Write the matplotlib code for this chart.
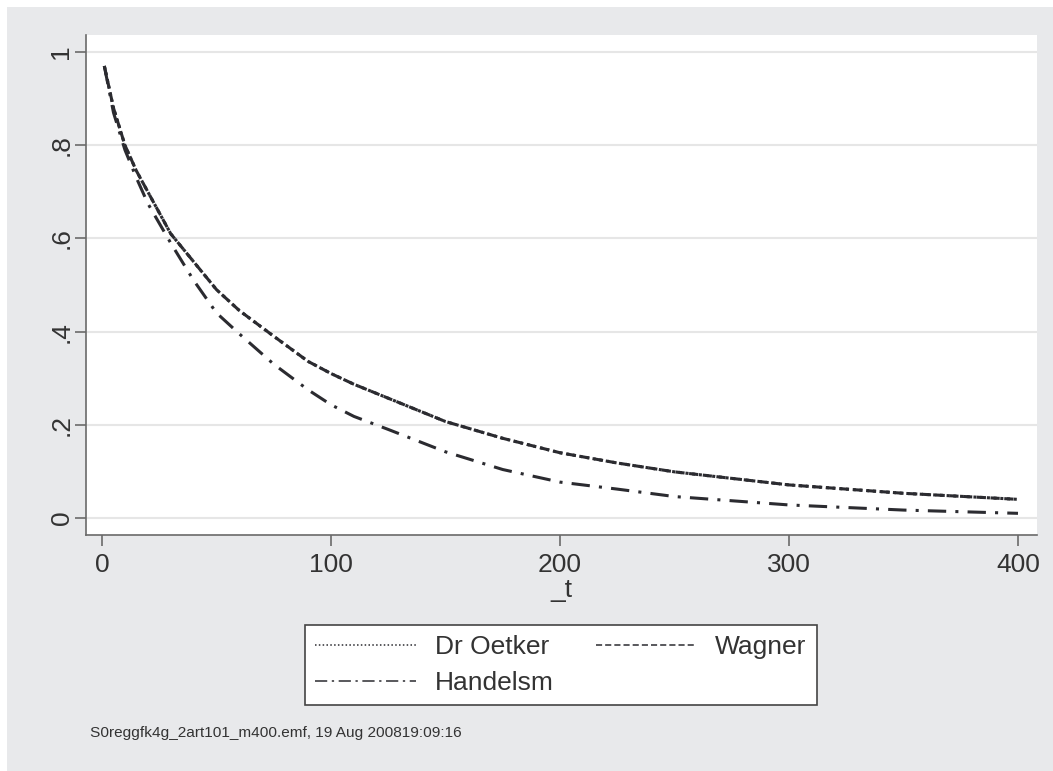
import matplotlib
matplotlib.use("Agg")
import matplotlib.pyplot as plt
from matplotlib.lines import Line2D
from matplotlib.patches import Rectangle

plt.rcParams["font.family"] = ["Liberation Sans", "DejaVu Sans"]

# survival estimates
t_vals = [1, 5, 10, 15, 20, 30, 40, 50, 60, 75, 90, 100, 110, 125, 150, 175, 200, 225, 250, 300, 350, 400]
oetker = [0.97, 0.88, 0.80, 0.745, 0.70, 0.61, 0.55, 0.49, 0.445, 0.39, 0.336, 0.31, 0.287, 0.257, 0.207, 0.171, 0.14, 0.118, 0.099, 0.071, 0.053, 0.040]
wagner = [0.97, 0.88, 0.80, 0.745, 0.70, 0.61, 0.55, 0.49, 0.445, 0.39, 0.336, 0.31, 0.287, 0.257, 0.207, 0.171, 0.14, 0.118, 0.099, 0.071, 0.053, 0.040]
handelsm = [0.97, 0.87, 0.79, 0.73, 0.675, 0.59, 0.51, 0.44, 0.395, 0.33, 0.275, 0.243, 0.218, 0.19, 0.142, 0.104, 0.077, 0.062, 0.046, 0.028, 0.017, 0.010]

y_ticks = [0, 0.2, 0.4, 0.6, 0.8, 1]
y_labels = ["0", ".2", ".4", ".6", ".8", "1"]
x_ticks = [0, 100, 200, 300, 400]

W, H = 1053, 771
fig = plt.figure(figsize=(W / 100, H / 100), dpi=100, facecolor="white")

# gray graph region
fig.patches.append(Rectangle((7 / W, 0), 1 - 7 / W, 1 - 7 / H, transform=fig.transFigure,
                             facecolor="#e8e9eb", edgecolor="none", zorder=-10))

ax = fig.add_axes([86 / W, (H - 535) / H, (1037 - 86) / W, (535 - 35) / H])
ax.set_facecolor("white")

line_col = "#2b2b30"
ax.plot(t_vals, wagner, color=line_col, lw=2.2, linestyle=(0, (3, 1.5)), zorder=3)
ax.plot(t_vals, oetker, color=line_col, lw=2.2, linestyle=(0, (1, 1.2)), zorder=4)
ax.plot(t_vals, handelsm, color=line_col, lw=2.2, linestyle=(0, (6, 3, 1, 3)), zorder=3)

ax.set_xlim(-7, 408.3)
ax.set_ylim(-0.0365, 1.0365)
ax.set_xticks(x_ticks)
ax.set_yticks(y_ticks)
ax.set_yticklabels(y_labels, rotation=90, va="center")
ax.grid(axis="y", color="#e6e6e6", lw=1.5)
ax.set_axisbelow(True)

for s in ["top", "right"]:
    ax.spines[s].set_visible(False)
for s in ["left", "bottom"]:
    ax.spines[s].set_color("#6a6a6a")
    ax.spines[s].set_linewidth(1.2)

ax.tick_params(axis="both", direction="out", length=8, width=1.2, color="#6a6a6a",
               labelsize=19, labelcolor="#333333", pad=5)
ax.tick_params(axis="y", pad=1)

ax.set_xlabel("_t", fontsize=19, color="#333333", labelpad=1)

# legend fills column-wise, so order puts Wagner in the second column
handles = [
    Line2D([], [], color=line_col, lw=1.1, linestyle=(0, (1, 1.5))),
    Line2D([], [], color=line_col, lw=1.1, linestyle=(0, (8, 3, 1.5, 3))),
    Line2D([], [], color=line_col, lw=1.1, linestyle=(0, (4, 2))),
]
labels = ["Dr Oetker", "Handelsm", "Wagner"]
leg = fig.legend(handles, labels, ncol=2, loc="center", bbox_to_anchor=(561 / W, 1 - 665 / H),
                 fontsize=19, frameon=True, fancybox=False, edgecolor="#444444",
                 facecolor="white", framealpha=1,
                 handlelength=3.8, handletextpad=0.72, columnspacing=1.6, labelspacing=0.45,
                 borderpad=0.4)
leg.get_frame().set_linewidth(1.2)
for txt in leg.get_texts():
    txt.set_color("#333333")

fig.text(90 / W, 1 - 733 / H, "S0reggfk4g_2art101_m400.emf, 19 Aug 200819:09:16",
         fontsize=11.1, color="#333333", va="center", ha="left")

fig.savefig("out.png", dpi=100)
